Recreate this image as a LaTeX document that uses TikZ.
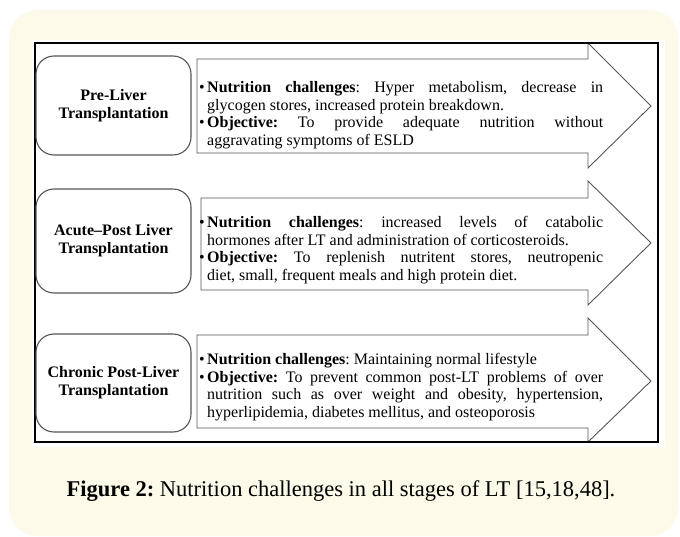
\documentclass[tikz,border=0pt]{standalone}
\usepackage{fontspec}
\setmainfont{Liberation Serif}
\usetikzlibrary{calc}

\definecolor{pagecream}{RGB}{254,250,233}
\definecolor{edgegray}{RGB}{85,85,85}

\newcommand{\notebullet}{\noindent\llap{\textbullet\hspace{2.5pt}}}
\frenchspacing

\tikzset{
  stagebox/.style={
    draw=edgegray,
    line width=1.1pt,
    rounded corners=18pt,
    minimum width=155pt,
    minimum height=#1,
    align=center,
    font=\fontsize{16}{18}\selectfont\bfseries
  },
  stagebox/.default={99pt},
%
  stagearrow/.style={
    draw=edgegray,
    line width=0.9pt,
    fill=white
  },
%
  notetext/.style={
    anchor=west,
    inner sep=0pt,
    text width=396pt,
    align=justify,
    font=\fontsize{16}{17.5}\selectfont
  },
%
  captiontext/.style={
    anchor=base,
    inner sep=0pt,
    font=\fontsize{22.5}{26}\selectfont
  },
}

\begin{document}
\begin{tikzpicture}[x=1pt, y=-1pt]

\useasboundingbox (0,0) rectangle (680,537);
\fill[white] (0,0) rectangle (680,537);
\fill[pagecream, rounded corners=28pt] (9,10) rectangle (678,536);
\fill[white] (32,40) rectangle (665,447);

% arrows
\draw[stagearrow] (197,59) -- (588,59) -- (588,43) -- (651,106) -- (588,168) -- (588,153) -- (197,153) -- cycle;
\draw[stagearrow] (201,198) -- (588,198) -- (588,181) -- (651,243) -- (588,305) -- (588,290) -- (201,290) -- cycle;
\draw[stagearrow] (197,335) -- (588,335) -- (588,318) -- (651,381) -- (588,442) -- (588,428) -- (197,428) -- cycle;

\draw[line width=1.2pt] (35,43) rectangle (658,442);

% stages
\node[stagebox] at (113.5,105.5) (pre) {Pre-Liver\\Transplantation};
\node[stagebox=104pt] at (113.5,241) (acute) {Acute--Post Liver\\Transplantation};
\node[stagebox=98pt] at (113.5,383) (chronic) {Chronic Post-Liver\\Transplantation};

\node[notetext] at (207,115) (prenote) {\hyphenpenalty=10000\relax\tolerance=9999\relax
\notebullet\textbf{Nutrition challenges}: Hyper metabolism, decrease in\linebreak glycogen stores, increased protein breakdown.\par
\notebullet\textbf{Objective:} To provide adequate nutrition without\linebreak aggravating symptoms of ESLD};

\node[notetext] at (207,250) (acutenote) {\hyphenpenalty=10000\relax\tolerance=9999\relax
\notebullet\textbf{Nutrition challenges}: increased levels of catabolic\linebreak hormones after LT and administration of corticosteroids.\par
\notebullet\textbf{Objective:} To replenish nutritent stores, neutropenic\linebreak diet, small, frequent meals and high protein diet.};

\node[notetext] at (207,387) (chronicnote) {\hyphenpenalty=10000\relax\tolerance=9999\relax
\notebullet\textbf{Nutrition challenges}: Maintaining normal lifestyle\par
\notebullet\textbf{Objective:} To prevent common post-LT problems of over\linebreak nutrition such as over weight and obesity, hypertension,\linebreak hyperlipidemia, diabetes mellitus, and osteoporosis};

\node[captiontext] at (341,496) (cap) {\textbf{Figure 2:} Nutrition challenges in all stages of LT [15,18,48].};

\end{tikzpicture}
\end{document}
